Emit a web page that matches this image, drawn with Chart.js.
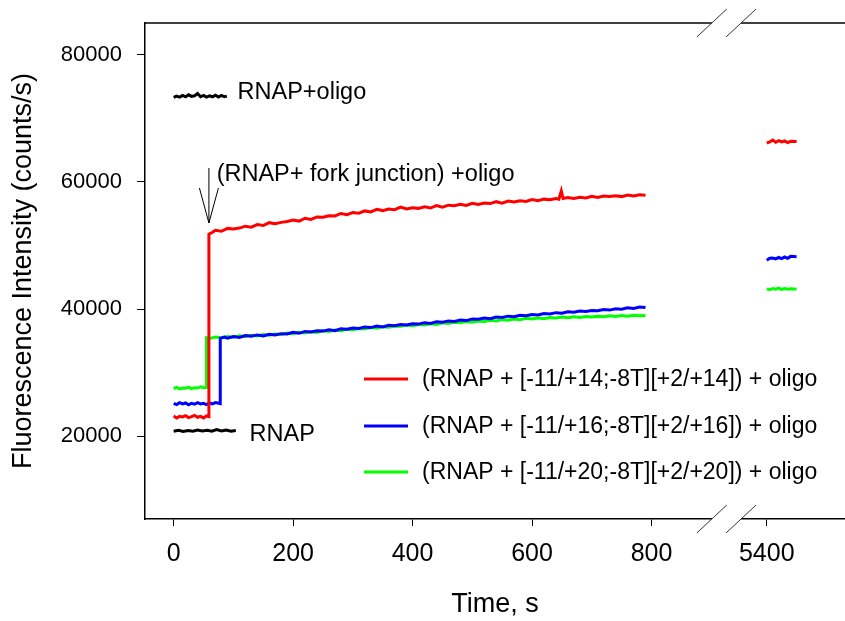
<!DOCTYPE html>
<html><head><meta charset="utf-8">
<script src="https://cdn.jsdelivr.net/npm/chart.js@4.4.0/dist/chart.umd.min.js"></script>
<style>html,body{margin:0;padding:0;background:#fff;overflow:hidden}canvas{display:block}</style>
</head><body>
<canvas id="c" width="845" height="621" style="width:845px;height:621px"></canvas>
<script>
const FONT = '"Liberation Sans", Arial, Helvetica, sans-serif';

// ---- data (time in s, fluorescence in counts/s) ----
const xTickValues = [0, 200, 400, 600, 800, 5400];
const yTickValues = [20000, 40000, 60000, 80000];
const BREAK_SHIFT = 4407;           // time removed by the axis break
const seriesLabels = [
  '(RNAP + [-11/+14;-8T][+2/+14]) + oligo',
  '(RNAP + [-11/+16;-8T][+2/+16]) + oligo',
  '(RNAP + [-11/+20;-8T][+2/+20]) + oligo'
];
const seriesColors = ['#ff0000', '#0000ff', '#00ff00'];

const redTrace = [[0,23200],[5,22900],[10,23150],[15,23050],[20,23250],[25,22950],[30,23100],[35,23300],[40,23000],[45,23150],[50,22900],[55,23200],[59,23100],
 [59,51800],[65,52100],[70,52400],[80,52250],[90,52700],[100,52600],[110,52750],[120,53050],[130,52900],[140,53300],[150,53150],[160,53600],[170,53450],[180,53650],[190,53800],[200,54000],[210,53850],[220,54300],[230,54100],[240,54500],[250,54450],[260,54700],[270,54650],[280,55050],[290,54850],[300,55200],[310,55100],[320,55450],[330,55300],[340,55700],[350,55500],[360,55750],[370,55650],[380,56050],[390,55750],[400,55950],[410,55850],[420,56100],[430,55900],[440,56300],[450,56050],[460,56350],[470,56250],[480,56500],[490,56300],[500,56650],[510,56450],[520,56700],[530,56600],[540,56900],[550,56650],[560,57000],[570,56850],[580,57050],[590,56950],[600,57250],[610,57050],[620,57300],[630,57200],[640,57400],[645,57300],[649,58600],[652,57400],[660,57550],[670,57400],[680,57600],[690,57500],[700,57750],[710,57550],[720,57800],[730,57700],[740,57850],[750,57700],[760,57950],[770,57800],[780,58000],[790,57900]];
const blueTrace = [[0,25200],[5,25000],[10,25300],[15,25100],[20,25250],[25,24950],[30,25200],[35,25050],[40,25300],[45,25100],[50,25200],[55,25000],[60,25250],[65,25100],[70,25300],[78,25150],
 [78,35400],[85,35600],[90,35450],[100,35700],[110,35550],[120,35850],[130,35750],[140,35950],[150,35800],[160,36050],[170,35950],[180,36150],[190,36100],[200,36350],[210,36200],[220,36500],[230,36400],[240,36600],[250,36550],[260,36750],[270,36600],[280,36900],[290,36850],[300,37050],[310,36950],[320,37200],[330,37100],[340,37350],[350,37200],[360,37450],[370,37400],[380,37600],[390,37500],[400,37700],[410,37650],[420,37850],[430,37750],[440,38000],[450,37950],[460,38150],[470,38050],[480,38300],[490,38200],[500,38450],[510,38400],[520,38600],[530,38500],[540,38750],[550,38700],[560,38900],[570,38800],[580,39050],[590,38950],[600,39150],[610,39100],[620,39300],[630,39250],[640,39450],[650,39350],[660,39600],[670,39500],[680,39700],[690,39650],[700,39800],[710,39750],[720,39950],[730,39850],[740,40050],[750,40000],[760,40200],[770,40100],[780,40350],[790,40250]];
const greenTrace = [[0,27500],[5,27700],[10,27450],[15,27600],[20,27550],[25,27750],[30,27500],[35,27650],[40,27600],[45,27800],[50,27650],[55,27700],
 [55,35500],[60,35400],[70,35600],[80,35500],[90,35700],[100,35600],[110,35800],[120,35700],[130,35900],[140,35800],[150,36000],[160,35900],[170,36100],[180,36000],[190,36250],[200,36150],[210,36350],[220,36250],[230,36450],[240,36350],[250,36600],[260,36500],[270,36700],[280,36600],[290,36850],[300,36750],[310,36950],[320,36900],[330,37100],[340,37000],[350,37250],[360,37150],[370,37350],[380,37300],[390,37500],[400,37400],[410,37600],[420,37500],[430,37700],[440,37600],[450,37850],[460,37750],[470,37950],[480,37850],[490,38050],[500,37950],[510,38150],[520,38050],[530,38250],[540,38150],[550,38350],[560,38250],[570,38450],[580,38350],[590,38550],[600,38450],[610,38600],[620,38500],[630,38700],[640,38600],[650,38750],[660,38650],[670,38800],[680,38700],[690,38850],[700,38750],[710,38900],[720,38800],[730,38950],[740,38850],[750,39000],[760,38900],[770,39050],[780,38950],[790,39000]];
const redLate = [[5400,66100],[5405,66300],[5410,66600],[5415,66250],[5420,66500],[5425,66300],[5430,66450],[5435,66200],[5440,66400],[5450,66350]];
const blueLate = [[5400,47700],[5405,48000],[5410,48050],[5415,47900],[5420,48150],[5425,47950],[5430,48200],[5435,48000],[5440,48300],[5450,48250]];
const greenLate = [[5400,43200],[5405,43050],[5410,43250],[5415,43150],[5420,43300],[5425,43100],[5430,43250],[5435,43150],[5440,43200],[5450,43150]];
const rnapOligoTrace = [[0,73300],[5,73500],[10,73350],[15,73600],[20,73400],[25,73700],[30,73450],[35,73550],[40,73900],[45,73400],[50,73600],[55,73350],[60,73550],[65,73400],[70,73650],[75,73350],[80,73600],[85,73400],[89,73500]];
const rnapTrace = [[0,20800],[8,20950],[16,20750],[24,20900],[32,20800],[40,21000],[48,20850],[56,20950],[64,20800],[72,21050],[80,20850],[88,21000],[96,20800],[104,20900]];

// annotations: [text, time, value(baseline)]
const annotations = [
  ['RNAP+oligo', 107, 73050],
  ['RNAP', 127, 19270],
  ['(RNAP+ fork junction) +oligo', 72, 60150]
];
const arrowSpec = { time: 59, fromValue: 62200, tipValue: 53550 };
const BREAK_LO = 901, BREAK_HI = 950;   // break marks (plot units)

// ---- helpers ----
const toPlot = t => (t > 2000 ? t - BREAK_SHIFT : t);
const pts = arr => arr.map(([t, v]) => ({ x: toPlot(t), y: v }));
const ds = (arr, color) => ({ data: pts(arr), borderColor: color, backgroundColor: color, borderWidth: 3, pointRadius: 0, tension: 0, fill: false });

const decorPlugin = {
  id: 'decor',
  afterDatasetsDraw(chart) {
    const { ctx, chartArea: ca, scales: { x, y } } = chart;
    ctx.save();
    // top frame line
    ctx.strokeStyle = '#000'; ctx.lineWidth = 1.5;
    ctx.beginPath(); ctx.moveTo(ca.left, ca.top); ctx.lineTo(ca.right, ca.top); ctx.stroke();
    // axis break
    const b1 = x.getPixelForValue(BREAK_LO), b2 = x.getPixelForValue(BREAK_HI);
    ctx.fillStyle = '#fff';
    [ca.top, ca.bottom].forEach(yy => {
      ctx.fillRect(b1, yy - 3, b2 - b1, 6);
      ctx.strokeStyle = '#333'; ctx.lineWidth = 1;
      [b1, b2].forEach(bx => {
        ctx.beginPath(); ctx.moveTo(bx - 15, yy + 14); ctx.lineTo(bx + 15, yy - 14); ctx.stroke();
      });
    });
    // text annotations
    ctx.fillStyle = '#000';
    ctx.font = '23.5px ' + FONT;
    ctx.textBaseline = 'alphabetic'; ctx.textAlign = 'left';
    annotations.forEach(([txt, t, v]) => ctx.fillText(txt, x.getPixelForValue(toPlot(t)), y.getPixelForValue(v)));
    // arrow
    const ax = x.getPixelForValue(toPlot(arrowSpec.time));
    const ay0 = y.getPixelForValue(arrowSpec.fromValue), ay1 = y.getPixelForValue(arrowSpec.tipValue);
    ctx.strokeStyle = '#000'; ctx.lineWidth = 1;
    ctx.beginPath();
    ctx.moveTo(ax, ay0); ctx.lineTo(ax, ay1);
    ctx.moveTo(ax - 9.5, ay1 - 35); ctx.lineTo(ax, ay1); ctx.lineTo(ax + 9.5, ay1 - 35);
    ctx.stroke();
    // legend
    ctx.font = '23px ' + FONT;
    ctx.textBaseline = 'middle';
    const rows = [379, 426, 472];
    seriesLabels.forEach((lab, i) => {
      ctx.strokeStyle = seriesColors[i]; ctx.lineWidth = 3;
      ctx.beginPath(); ctx.moveTo(364, rows[i]); ctx.lineTo(408, rows[i]); ctx.stroke();
      ctx.fillStyle = '#000';
      ctx.fillText(lab, 422, rows[i] + 1);
    });
    ctx.restore();
  }
};

new Chart(document.getElementById('c'), {
  type: 'line',
  data: {
    datasets: [
      ds(redTrace, seriesColors[0]), ds(redLate, seriesColors[0]),
      ds(blueTrace, seriesColors[1]), ds(blueLate, seriesColors[1]),
      ds(greenTrace, seriesColors[2]), ds(greenLate, seriesColors[2]),
      ds(rnapOligoTrace, '#000'), ds(rnapTrace, '#000')
    ]
  },
  options: {
    responsive: false, animation: false, devicePixelRatio: 1,
    layout: { padding: { left: 0, right: 0, top: 23, bottom: 0 } },
    plugins: { legend: { display: false }, tooltip: { enabled: false } },
    scales: {
      x: {
        type: 'linear', min: -48, max: 1124,
        afterBuildTicks: s => { s.ticks = xTickValues.map(v => ({ value: toPlot(v) })); },
        afterFit: s => { s.height = 102; s.paddingLeft = 0; s.paddingRight = 0; },
        ticks: { color: '#000', font: { family: FONT, size: 25 }, padding: 13, maxRotation: 0, autoSkip: false,
          callback: v => String(v > 900 ? v + BREAK_SHIFT : v) },
        grid: { drawOnChartArea: false, drawTicks: true, tickLength: 7, color: '#000', lineWidth: 1 },
        border: { display: true, color: '#000', width: 1.5 },
        title: { display: true, text: 'Time, s', color: '#000', font: { family: FONT, size: 27 }, padding: { top: 0, bottom: 0 } }
      },
      y: {
        type: 'linear', min: 7000, max: 85000,
        afterBuildTicks: s => { s.ticks = yTickValues.map(v => ({ value: v })); },
        afterFit: s => { s.width = 145; s.paddingTop = 0; s.paddingBottom = 0; },
        ticks: { color: '#000', font: { family: FONT, size: 22 }, padding: 15, callback: v => String(v) },
        grid: { drawOnChartArea: false, drawTicks: true, tickLength: 8, color: '#000', lineWidth: 1 },
        border: { display: true, color: '#000', width: 1.5 },
        title: { display: true, text: 'Fluorescence Intensity (counts/s)', color: '#000', font: { family: FONT, size: 27 }, padding: { top: 7, bottom: 0 } }
      }
    }
  },
  plugins: [decorPlugin]
});
</script>
</body></html>
